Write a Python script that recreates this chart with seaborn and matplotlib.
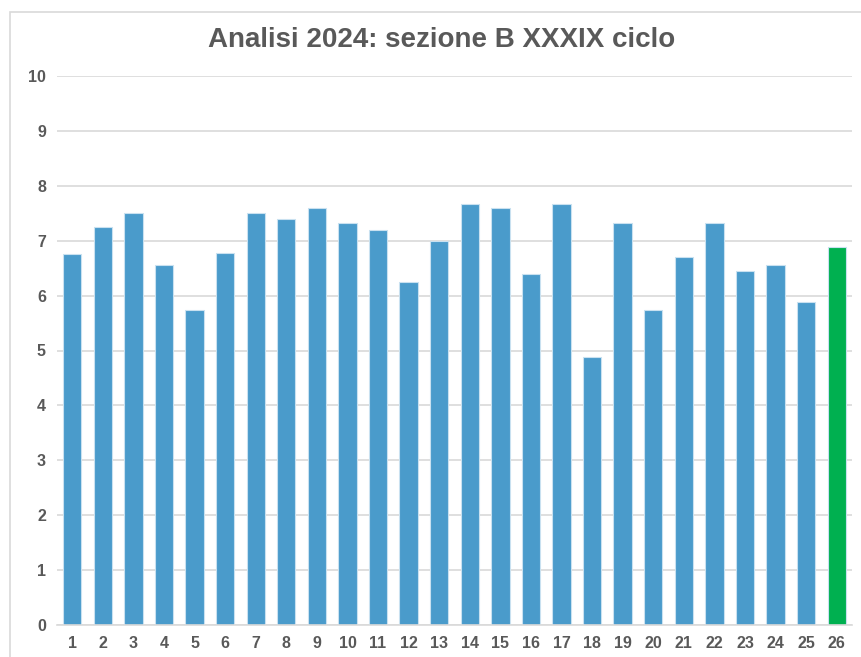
import matplotlib
matplotlib.use('Agg')
import matplotlib.pyplot as plt
import seaborn as sns
from matplotlib.patches import Rectangle

# Dati
sections = [str(i) for i in range(1, 27)]
scores = [6.75, 7.25, 7.50, 6.55, 5.73, 6.78, 7.50, 7.40, 7.59, 7.33,
          7.19, 6.24, 7.00, 7.67, 7.60, 6.39, 7.67, 4.89, 7.33, 5.73,
          6.70, 7.33, 6.45, 6.55, 5.88, 6.89]
bar_colors = ['#4A9BCB'] * 25 + ['#00B050']

sns.set_style('white')
plt.rcParams['font.family'] = ['Liberation Sans', 'DejaVu Sans']

W, H = 862, 657
fig = plt.figure(figsize=(W / 100, H / 100), dpi=100)
ax = fig.add_axes([57 / W, 32 / H, (852 - 57) / W, (625 - 76) / H])

sns.barplot(x=sections, y=scores, hue=sections, palette=bar_colors,
            saturation=1, legend=False, width=0.6, ax=ax,
            edgecolor='#C9E1F0', linewidth=0.8)

ax.set_ylim(0, 10)
ax.set_xlim(-0.5, 25.5)
ax.set_yticks(range(0, 11))
ax.yaxis.grid(True, color='#D9D9D9', linewidth=1.2)
ax.set_axisbelow(True)
for s in ['top', 'right', 'left']:
    ax.spines[s].set_visible(False)
ax.spines['bottom'].set_color('#D9D9D9')
ax.spines['bottom'].set_linewidth(1.2)
ax.tick_params(axis='both', length=0, labelsize=11.5, labelcolor='#595959', pad=8)
for lbl in ax.get_xticklabels() + ax.get_yticklabels():
    lbl.set_fontweight('bold')
ax.set_xlabel('')
ax.set_ylabel('')

fig.text(442 / W, 1 - 40 / H, 'Analisi 2024: sezione B XXXIX ciclo',
         ha='center', va='center', fontsize=20, fontweight='bold', color='#595959')

# bordo del grafico
fig.patches.append(Rectangle((10 / W, -0.1), 1.2, 1 - 12 / H + 0.1,
                             transform=fig.transFigure, fill=False,
                             edgecolor='#D9D9D9', linewidth=1.2))

fig.savefig('out.png', dpi=100)
